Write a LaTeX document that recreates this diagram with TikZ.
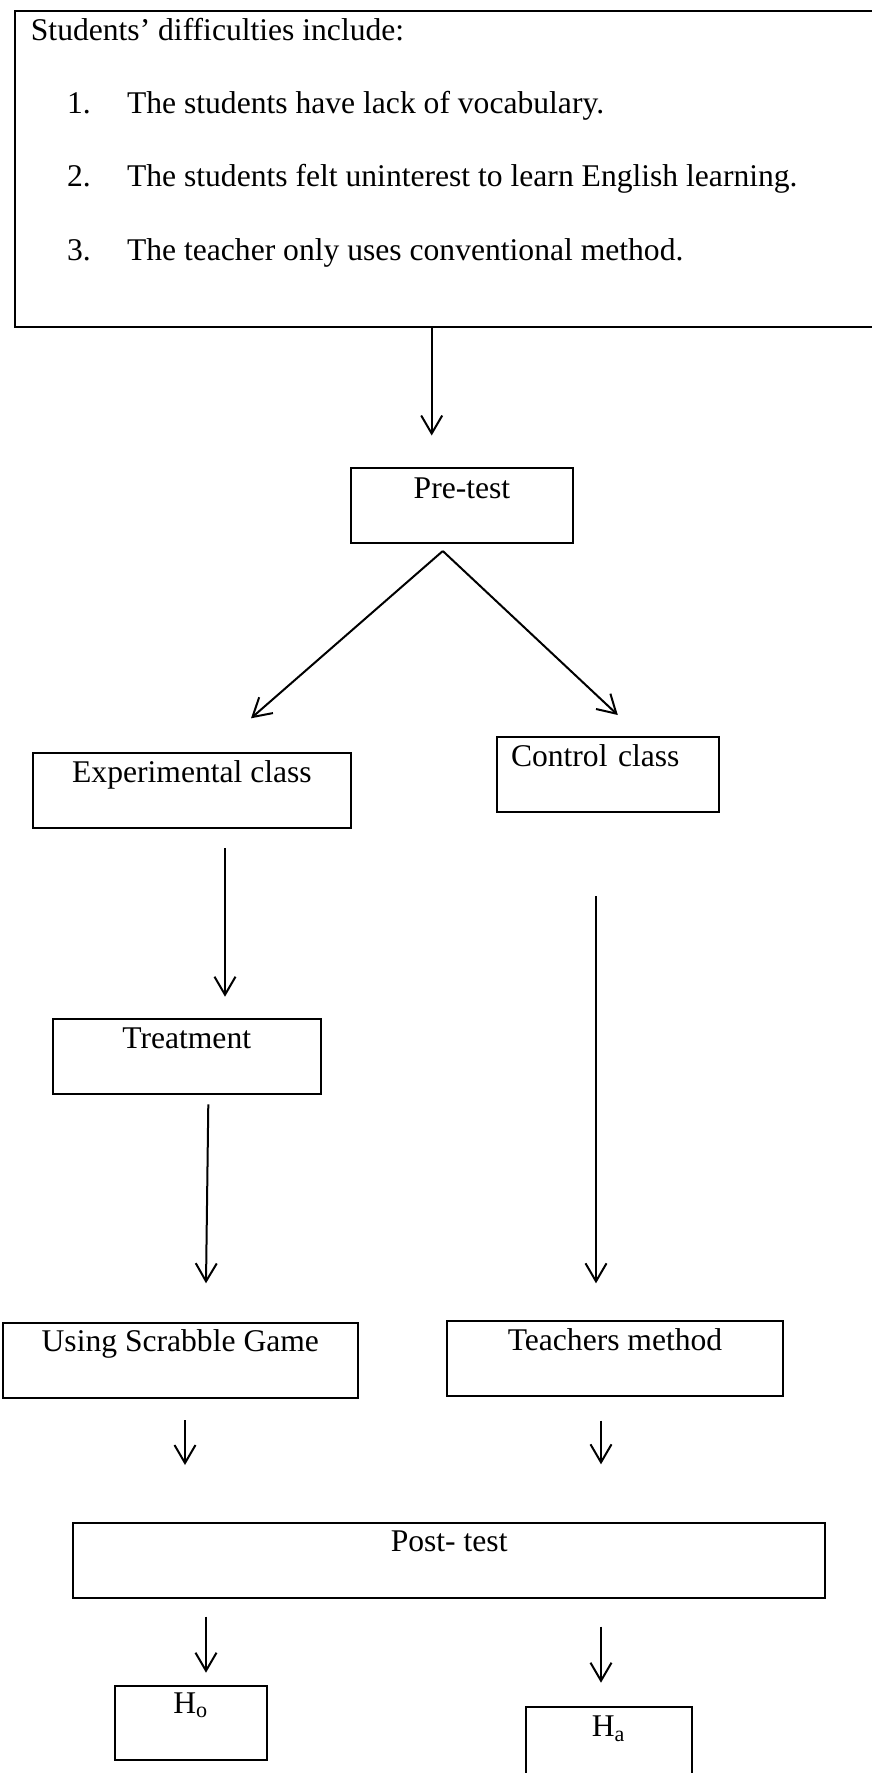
\documentclass[tikz,border=0pt]{standalone}
\usepackage{fontspec}
\setmainfont{Liberation Serif}
\usetikzlibrary{arrows.meta}
\tikzset{x=0.5pt, y=-0.5pt,
  every node/.style={font=\fontsize{15.8}{18}\selectfont},
  box/.style={draw, line width=1pt, inner sep=0pt, outer sep=0pt, anchor=north west},
  arr/.style={-{Straight Barb[length=9pt, width=10.5pt]}, line width=1pt}}

\begin{document}
\begin{tikzpicture}
        \useasboundingbox (0,0) rectangle (872,1773);

        % problem box
        \node[box, minimum width=430pt, minimum height=158pt] (diff) at (14.5,11) {};
        \node[anchor=base west, inner sep=0pt] (head) at (30.5,40) {Students’ difficulties include:};
        \node[anchor=base west, inner sep=0pt] (item1) at (66.7,113.3) {\makebox[30pt][l]{1.}The students have lack of vocabulary.};
        \node[anchor=base west, inner sep=0pt] (item2) at (66.7,186.7) {\makebox[30pt][l]{2.}The students felt uninterest to learn English learning.};
        \node[anchor=base west, inner sep=0pt] (item3) at (66.7,260) {\makebox[30pt][l]{3.}The teacher only uses conventional method.};

        % boxes
        \node[box, minimum width=111pt, text height=15.15pt, text depth=22.2pt] (pre) at (351,468) {Pre-test};
        \node[box, minimum width=158.65pt, text height=14.8pt, text depth=22.7pt] (exp) at (33.3,752.7) {Experimental class};
        \node[box, inner xsep=7pt, text width=97pt, align=left, text height=15pt, text depth=22.5pt] (ctrl) at (497,736.7) {Control class};
        \node[box, minimum width=133.9pt, text height=14.8pt, text depth=22.85pt] (treat) at (52.8,1018.7) {Treatment};
        \node[box, minimum width=177.5pt, text height=14.5pt, text depth=23.15pt] (game) at (2.8,1322.7) {Using Scrabble Game};
        \node[box, minimum width=168pt, text height=14.5pt, text depth=23pt] (teach) at (447,1321) {Teachers method};
        \node[box, minimum width=375.85pt, text height=14.35pt, text depth=23pt] (post) at (73.3,1523) {Post- test};
        \node[box, minimum width=75.85pt, text height=13.65pt, text depth=23.35pt] (ho) at (115,1686) {H\textsubscript{o}};
        \node[box, minimum width=83pt, text height=15pt, text depth=22.5pt] (ha) at (525.6,1706.7) {H\textsubscript{a}};

        % arrow ends
        \coordinate (s1) at (431.7,327);    \coordinate (e1) at (431.7,435.5);
        \coordinate (s2) at (442.8,551);    \coordinate (e2) at (251,718.3);
                                            \coordinate (e3) at (617.8,715);
        \coordinate (s4) at (225,848.3);    \coordinate (e4) at (225,996.7);
        \coordinate (s5) at (208.3,1104.3); \coordinate (e5) at (206,1283.3);
        \coordinate (s6) at (596,896);      \coordinate (e6) at (596,1283.3);
        \coordinate (s7) at (185,1420);     \coordinate (e7) at (185,1465);
        \coordinate (s8) at (601,1420.7);   \coordinate (e8) at (601,1464.3);
        \coordinate (s9) at (206,1616.7);   \coordinate (e9) at (206,1672.7);
        \coordinate (s10) at (601,1626.7);  \coordinate (e10) at (601,1682.7);

        \draw[arr] (s1) -- (e1);
        \draw[arr] (s2) -- (e2);
        \draw[arr] (s2) -- (e3);
        \draw[arr] (s4) -- (e4);
        \draw[arr] (s5) -- (e5);
        \draw[arr] (s6) -- (e6);
        \draw[arr] (s7) -- (e7);
        \draw[arr] (s8) -- (e8);
        \draw[arr] (s9) -- (e9);
        \draw[arr] (s10) -- (e10);
      \end{tikzpicture}
\end{document}
